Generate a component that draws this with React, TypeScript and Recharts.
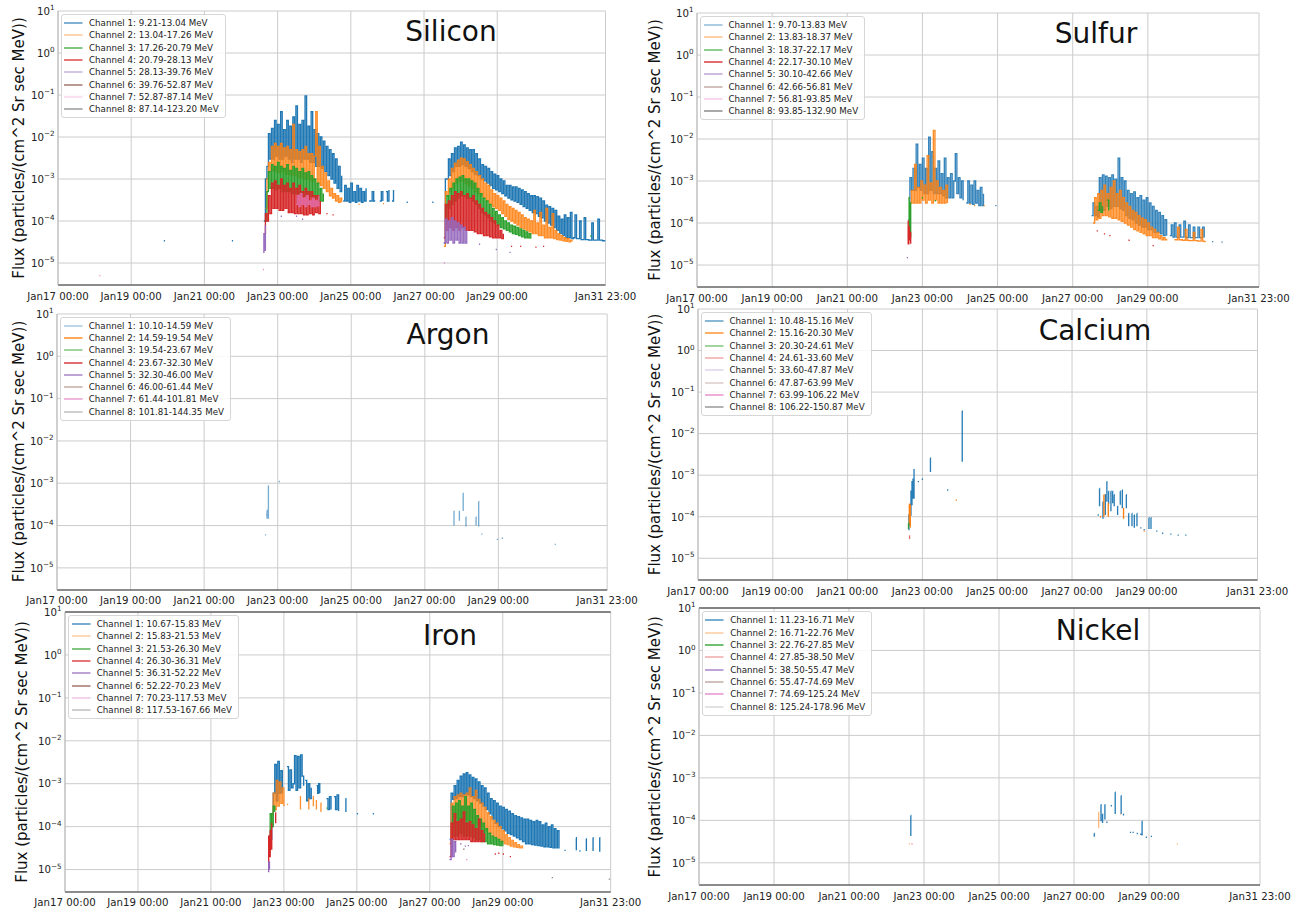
import React from 'react';
import { LineChart, Line, XAxis, YAxis, CartesianGrid, ReferenceLine } from 'recharts';

// a run of readings: start hour (from Jan17 00:00), hour step, values
type Seg = { t: number; dt?: number; v: number[] };
type Pt = { t: number; v: number | null };

const timeTicks = [0, 48, 96, 144, 192, 240, 288, 359];
const timeLabels = ['Jan17 00:00', 'Jan19 00:00', 'Jan21 00:00', 'Jan23 00:00', 'Jan25 00:00', 'Jan27 00:00', 'Jan29 00:00', 'Jan31 23:00'];
const fluxTicks = [1e-5, 1e-4, 1e-3, 1e-2, 1e-1, 1, 10];

const channelColors = ['#1f77b4', '#ff7f0e', '#2ca02c', '#d62728', '#9467bd', '#8c564b', '#e377c2', '#7f7f7f'];

// ---------- Silicon ----------
const siliconRanges = ['9.21-13.04', '13.04-17.26', '17.26-20.79', '20.79-28.13', '28.13-39.76', '39.76-52.87', '52.87-87.14', '87.14-123.20'];
const siliconCh1: Seg[] = [
  { t: 69.4, v: [3.4e-5] },
  { t: 114, v: [3.4e-5] },
  { t: 135, v: [1e-4, 1e-3, 2e-3, 1.2e-2, 3e-3, 1.6e-2, 3e-3, 2.5e-2, 3.5e-3, 2e-2, 3e-3, 4e-2, 3e-3, 1.5e-2, 3.5e-3, 2.5e-2, 3e-3, 1.8e-2, 2.5e-3, 3e-2, 3e-3, 5.5e-2, 3e-3, 2e-2, 2.5e-3, 2.5e-2, 3e-3, 9.5e-2, 3e-3, 1.8e-2, 2.5e-3, 4e-2, 2.5e-3, 1.5e-2, 2e-3, 1.2e-2, 2e-3, 1e-2, 1.8e-3, 8e-3, 1.5e-3, 6e-3, 1.2e-3, 5e-3, 1e-3, 4e-3, 8e-4, 3e-3, 6e-4, 2e-3, 5e-4, 1.2e-3] },
  { t: 187, v: [3e-4, 7e-4, 3e-4, 6e-4, 2.8e-4, 8e-4, 3e-4, 5e-4, 2.8e-4, 7e-4, 3e-4, 6e-4, 2.8e-4, 5e-4, 3e-4, 6e-4] },
  { t: 204, v: [3e-4, 3e-4, 5e-4, 3e-4, 3e-4] },
  { t: 211, v: [3e-4, 5e-4, 3e-4] },
  { t: 215, v: [5e-4, 3e-4, 5.5e-4] },
  { t: 219, v: [3e-4, 5.5e-4] },
  { t: 228.6, v: [2.8e-4] },
  { t: 245.4, v: [2.8e-4] },
  { t: 253, v: [3e-5, 1e-3, 1e-3, 3e-3, 1.2e-3, 4e-3, 1.5e-3, 5.5e-3, 2e-3, 6e-3, 2e-3, 7.5e-3, 2.2e-3, 6.5e-3, 2e-3, 5.5e-3, 1.8e-3, 5e-3, 1.5e-3, 5e-3, 1.3e-3, 4e-3, 1.2e-3, 3e-3, 1e-3, 2.2e-3, 9e-4, 2e-3, 8e-4, 1.8e-3, 7e-4, 1.5e-3, 6e-4, 1.3e-3, 5.5e-4, 1.2e-3, 5e-4, 1e-3, 4.5e-4, 9e-4, 4e-4, 7e-4, 3.5e-4, 7e-4, 3.2e-4, 6.5e-4, 3e-4, 6.5e-4, 2.8e-4, 6e-4, 2.5e-4, 5.5e-4, 2.2e-4, 5e-4, 2e-4, 4.5e-4, 1.8e-4, 4e-4, 1.6e-4, 4e-4, 1.5e-4, 3.8e-4, 1.3e-4, 3.5e-4, 1.2e-4, 3e-4, 1e-4, 2.4e-4, 9e-5, 2.2e-4, 8e-5, 2e-4, 7e-5, 1.8e-4, 6e-5, 1.3e-4, 5e-5, 1.1e-4, 4.5e-5, 1.4e-4, 4e-5, 1.2e-4, 4e-5, 1.6e-4, 3.8e-5, 4e-5, 1.4e-4, 3.8e-5, 3.8e-5, 1e-4, 3.6e-5, 3.6e-5, 1.2e-4, 3.6e-5, 3.6e-5, 3.5e-5, 3.5e-5, 9e-5, 3.5e-5, 3.5e-5, 3.5e-5, 1.1e-4, 3.5e-5, 3.5e-5, 3.4e-5, 3.4e-5, 3.4e-5] },
];
const siliconCh2: Seg[] = [
  { t: 136, v: [2e-4, 1e-3, 2.5e-3, 1.5e-3, 6e-3, 1.6e-3, 7e-3, 1.5e-3, 6e-3, 1.4e-3, 7e-3, 1.5e-3, 5.5e-3, 1.3e-3, 6e-3, 1.3e-3, 5e-3, 1.2e-3, 2e-2, 1.2e-3, 5e-3, 1.1e-3, 4.5e-3, 1.1e-3, 5e-3, 1e-3, 6e-3, 1e-3, 4e-3, 9e-4, 4e-3, 9e-4, 3.5e-3, 4e-2, 8e-4, 6e-3, 7e-4, 2e-3, 6e-4, 1.4e-3, 5e-4, 9e-4, 4e-4, 6e-4, 3.5e-4, 4.5e-4, 3e-4, 4e-4, 2.8e-4, 3.5e-4, 2.8e-4] },
  { t: 197, v: [2.5e-4] },
  { t: 213, v: [2.6e-4] },
  { t: 253, v: [2.5e-5, 5e-4, 4e-4, 1e-3, 5e-4, 1.8e-3, 6e-4, 2.4e-3, 8e-4, 2.8e-3, 9e-4, 3.2e-3, 9e-4, 3e-3, 8e-4, 2.6e-3, 7e-4, 2.2e-3, 6e-4, 1.8e-3, 5e-4, 1.5e-3, 4.5e-4, 1.2e-3, 4e-4, 1e-3, 3.5e-4, 8e-4, 3e-4, 7e-4, 2.5e-4, 5.5e-4, 2.2e-4, 4.5e-4, 2e-4, 4e-4, 1.8e-4, 3.5e-4, 1.5e-4, 3e-4, 1.3e-4, 2.5e-4, 1.1e-4, 2.2e-4, 1e-4, 2e-4, 9e-5, 1.8e-4, 8e-5, 1.6e-4, 7e-5, 1.4e-4, 6.5e-5, 1.2e-4, 6e-5, 1.1e-4, 5.5e-5, 1e-4, 5e-5, 1.8e-4, 5e-5, 9e-5, 4.5e-5, 1.6e-4, 4.5e-5, 8e-5, 4e-5, 2e-4, 4e-5, 7e-5, 4e-5, 1.5e-4, 3.8e-5, 6e-5, 3.6e-5, 5e-5, 3.5e-5, 4.5e-5, 3.4e-5, 4e-5, 3.3e-5, 3.8e-5, 3.2e-5, 3.5e-5, 3.2e-5] },
];
const siliconCh3: Seg[] = [
  { t: 136, v: [1e-4, 5e-4, 1.5e-3, 6e-4, 2.2e-3, 6e-4, 2e-3, 5.5e-4, 2.5e-3, 6e-4, 2e-3, 5e-4, 1.8e-3, 5e-4, 2.2e-3, 5e-4, 1.6e-3, 4.5e-4, 2e-3, 4.5e-4, 1.8e-3, 4.5e-4, 1.5e-3, 4e-4, 1.8e-3, 4e-4, 1.4e-3, 4e-4, 1.5e-3, 3.8e-4, 1.2e-3, 3.5e-4, 1e-3, 3.5e-4, 8e-4, 3e-4, 6e-4, 3e-4, 4.5e-4] },
  { t: 254, v: [1e-4, 4e-4, 2e-4, 6e-4, 2.5e-4, 8e-4, 3e-4, 1e-3, 3.5e-4, 1.1e-3, 4e-4, 1.2e-3, 4e-4, 1e-3, 3.5e-4, 1e-3, 3.5e-4, 9e-4, 3e-4, 8e-4, 2.5e-4, 6e-4, 2e-4, 4.5e-4, 1.6e-4, 3.5e-4, 1.4e-4, 3e-4, 1.2e-4, 2.5e-4, 1e-4, 2e-4, 9e-5, 1.7e-4, 8e-5, 1.4e-4, 7e-5, 1.2e-4, 6.5e-5, 1e-4, 6e-5, 9e-5, 5.5e-5, 8e-5, 5e-5, 7.5e-5, 4.8e-5, 7e-5, 4.5e-5, 6.5e-5, 4.2e-5, 6e-5, 4e-5, 5.5e-5, 4e-5, 5e-5, 3.8e-5] },
  { t: 349, v: [4.4e-5] },
];
const siliconCh4: Seg[] = [
  { t: 135, v: [5e-5, 1.5e-4, 1e-4, 4e-4, 1.5e-4, 8e-4, 2e-4, 9e-4, 2e-4, 7e-4, 1.8e-4, 1e-3, 1.8e-4, 7e-4, 2e-4, 8e-4, 1.6e-4, 6e-4, 1.6e-4, 8e-4, 1.5e-4, 6e-4, 1.5e-4, 7e-4, 1.5e-4, 5e-4, 1.4e-4, 6e-4, 1.4e-4, 5e-4, 1.5e-4, 5e-4, 1.4e-4, 4e-4, 1.6e-4, 4e-4, 1.5e-4, 3e-4] },
  { t: 176, v: [1.5e-4] },
  { t: 180, v: [1.4e-4] },
  { t: 253, v: [4e-5, 2.5e-4, 6e-5, 3e-4, 7e-5, 4e-4, 6e-5, 5e-4, 7e-5, 4.5e-4, 6e-5, 5e-4, 7e-5, 4e-4, 6e-5, 4.5e-4, 6e-5, 3.5e-4, 6e-5, 4e-4, 5.5e-5, 3e-4, 5e-5, 2.5e-4, 5e-5, 2e-4, 4.5e-5, 1.6e-4, 4.5e-5, 1.4e-4, 4.2e-5, 1.2e-4, 4e-5, 1e-4, 4e-5, 8e-5, 4e-5, 6e-5, 3.8e-5, 5e-5] },
  { t: 297, v: [2.5e-5] },
  { t: 303, v: [2.5e-5] },
  { t: 313, v: [2.4e-5] },
  { t: 318, v: [2.5e-5] },
];
const siliconCh5: Seg[] = [
  { t: 134.5, dt: 0.5, v: [1.8e-5, 5e-5, 2e-5, 8e-5] },
  { t: 146, v: [1.3e-4] },
  { t: 156, v: [1.3e-4] },
  { t: 160, v: [1.1e-4] },
  { t: 253, v: [3e-5, 1.1e-4, 3e-5, 1e-4, 3.5e-5, 1.2e-4, 3e-5, 1e-4, 3.5e-5, 9e-5, 3e-5, 8e-5, 3e-5, 7e-5, 3e-5, 6e-5] },
  { t: 276, v: [2.8e-5] },
  { t: 287, v: [2.1e-5] },
  { t: 296, v: [1.8e-5] },
];
const siliconCh7: Seg[] = [
  { t: 27, v: [5e-6] },
  { t: 134.3, v: [7e-6] },
  { t: 156, v: [2.5e-4, 4e-4, 2.2e-4, 4.5e-4, 2.5e-4, 3.5e-4, 2.2e-4, 4e-4, 2.5e-4, 3e-4, 2.2e-4, 3.5e-4, 2.2e-4, 3e-4, 2.3e-4, 4e-4] },
  { t: 253, v: [1e-5] },
];

// ---------- Sulfur ----------
const sulfurRanges = ['9.70-13.83', '13.83-18.37', '18.37-22.17', '22.17-30.10', '30.10-42.66', '42.66-56.81', '56.81-93.85', '93.85-132.90'];
const sulfurCh1: Seg[] = [
  { t: 135, v: [1.2e-4, 1.2e-3, 6e-4, 2e-3, 6e-4, 7.5e-3, 7e-4, 2.5e-3, 6e-4, 3.5e-3, 5e-4, 2e-3, 5e-4, 1.1e-2, 6e-4, 5e-3, 5e-4, 2e-3, 5e-4, 3e-3, 5e-4, 1.5e-3, 4.5e-4, 3.5e-3, 4e-4, 1.2e-3, 4e-4, 1.5e-3, 4e-4, 1e-3, 4.5e-3, 5e-4, 1.2e-3, 4e-4, 1e-3, 3.5e-4] },
  { t: 172, v: [3e-4, 1e-3, 3e-4, 8e-4, 2.8e-4, 1e-3, 3e-4, 6e-4, 2.6e-4, 7e-4, 2.6e-4, 5e-4] },
  { t: 190.5, v: [2.6e-4] },
  { t: 252, v: [1.5e-4, 3e-4, 1.5e-4, 2.5e-4, 1.4e-4, 1.2e-3, 2e-4, 1.4e-3, 2e-4, 1.3e-3, 2.5e-4, 1.2e-3, 2.2e-4, 1.4e-3, 2.5e-4, 1.1e-3, 2.5e-4, 3.5e-3, 2.2e-4, 1.2e-3, 2e-4, 1e-3, 1.5e-4, 6e-4, 1.3e-4, 5e-4, 1.2e-4, 5.5e-4, 1e-4, 4e-4, 9e-5, 4.5e-4, 8e-5, 3.5e-4, 8e-5, 4e-4, 7e-5, 3e-4, 7e-5, 2.5e-4, 6e-5, 2e-4, 6e-5, 1.8e-4, 5.5e-5, 1.5e-4, 5e-5, 1.2e-4, 5e-5] },
  { t: 302, v: [5e-5, 9e-5, 4.6e-5, 1e-4, 4.6e-5, 4.6e-5, 9e-5, 4.6e-5, 4.6e-5, 1.1e-4, 4.6e-5, 4.5e-5, 9e-5, 4.5e-5, 4.5e-5, 8e-5, 4.5e-5, 4.5e-5, 8e-5, 4.5e-5, 4.5e-5, 8e-5, 4.5e-5] },
  { t: 329, v: [3.6e-5] },
  { t: 335, v: [3.5e-5] },
];
const sulfurCh2: Seg[] = [
  { t: 135, v: [1e-4, 3e-4, 6e-4, 3e-4, 2.5e-3, 3e-4, 7e-4, 3e-4, 1e-3, 3.5e-4, 8e-4, 3e-4, 4e-3, 3.5e-4, 9e-4, 3e-4, 1.6e-2, 3.5e-4, 1e-3, 3e-4, 7e-4, 3e-4, 6e-4, 3e-4, 8e-4, 3e-4] },
  { t: 174, v: [2.8e-4] },
  { t: 177, v: [2.6e-4] },
  { t: 183, v: [2.6e-4] },
  { t: 253, v: [1e-4, 4e-4, 1.2e-4, 5e-4, 1.3e-4, 6e-4, 1.5e-4, 8e-4, 1.5e-4, 5e-4, 1.4e-4, 7e-4, 1.3e-4, 1e-3, 1.3e-4, 5e-4, 1.2e-4, 6e-4, 1.1e-4, 4e-4, 1e-4, 3e-4, 9e-5, 2.5e-4, 8e-5, 2e-4, 7e-5, 1.8e-4, 6.5e-5, 1.5e-4, 6e-5, 1.3e-4, 5.5e-5, 1.2e-4, 5e-5, 1e-4, 5e-5, 8e-5, 4.5e-5, 7e-5, 4.5e-5, 6e-5, 4.2e-5, 5e-5, 4e-5, 4.5e-5, 4e-5, 4.2e-5] },
  { t: 305, v: [4e-5, 4e-5, 8e-5, 4e-5, 4e-5, 3.9e-5, 3.9e-5, 7e-5, 3.9e-5, 3.8e-5, 3.8e-5, 3.8e-5, 6e-5, 3.8e-5, 3.8e-5, 3.7e-5, 3.7e-5, 7e-5, 3.7e-5, 3.6e-5, 3.6e-5] },
];
const sulfurCh3: Seg[] = [
  { t: 135, dt: 0.5, v: [4e-4, 8e-5, 3e-4, 4.5e-5] },
  { t: 143.6, v: [4e-4] },
  { t: 151.8, v: [3.4e-4] },
  { t: 256, v: [2e-4, 3e-4, 1.8e-4, 2.5e-4] },
  { t: 262, v: [3.5e-4, 2e-4] },
];
const sulfurCh4: Seg[] = [
  { t: 134.5, dt: 0.4, v: [1.1e-4, 3.2e-5, 8e-5, 4e-5, 6e-5, 3.2e-5] },
  { t: 255.3, v: [6.5e-5] },
  { t: 259.9, v: [5.5e-5] },
  { t: 263.4, v: [5e-5] },
  { t: 275.6, v: [3.9e-5] },
  { t: 291, v: [2.9e-5] },
];
const sulfurCh5: Seg[] = [{ t: 134, v: [1.5e-5] }];

// ---------- Argon ----------
const argonRanges = ['10.10-14.59', '14.59-19.54', '19.54-23.67', '23.67-32.30', '32.30-46.00', '46.00-61.44', '61.44-101.81', '101.81-144.35'];
const argonCh1: Seg[] = [
  { t: 135.7, v: [6e-5] },
  { t: 136.4, v: [1.8e-4] },
  { t: 137, dt: 0.05, v: [2.3e-4, 1.45e-4] },
  { t: 137.9, dt: 0.05, v: [8.7e-4, 1.45e-4] },
  { t: 144.7, v: [1.1e-3] },
  { t: 259, dt: 0.05, v: [2.2e-4, 1e-4] },
  { t: 262.5, dt: 0.05, v: [2.2e-4, 1.3e-4] },
  { t: 265, dt: 0.05, v: [5.8e-4, 2.2e-4] },
  { t: 266.8, dt: 0.05, v: [1.6e-4, 9.5e-5] },
  { t: 273.4, dt: 0.05, v: [1.6e-4, 1e-4] },
  { t: 275.1, dt: 0.05, v: [3.7e-4, 9.5e-5] },
  { t: 276.8, v: [6.3e-5] },
  { t: 286.9, v: [4.7e-5] },
  { t: 290.2, v: [5e-5] },
  { t: 324.7, v: [3.6e-5] },
];

// ---------- Calcium ----------
const calciumRanges = ['10.48-15.16', '15.16-20.30', '20.30-24.61', '24.61-33.60', '33.60-47.87', '47.87-63.99', '63.99-106.22', '106.22-150.87'];
const calciumCh1: Seg[] = [
  { t: 135, dt: 0.33, v: [4.9e-5, 1.1e-4, 6.5e-5, 1.95e-4, 1.1e-4, 4.1e-4, 1.95e-4, 7e-4, 2.8e-4, 8e-4, 2.8e-4, 1.4e-3] },
  { t: 141, v: [7e-4] },
  { t: 143.6, v: [8e-4] },
  { t: 149.1, dt: 0.05, v: [2.6e-3, 1.2e-3] },
  { t: 159.8, v: [4.4e-4] },
  { t: 169.5, dt: 0.05, v: [3.5e-2, 2.1e-3] },
  { t: 256.4, v: [1.1e-4] },
  { t: 257.6, dt: 0.05, v: [4.8e-4, 1.8e-4] },
  { t: 259.8, dt: 0.05, v: [2.3e-4, 9e-5] },
  { t: 261.3, dt: 0.05, v: [3.4e-4, 1.1e-4] },
  { t: 262.3, dt: 0.05, v: [7e-4, 2.3e-4] },
  { t: 263.4, dt: 0.05, v: [4.1e-4, 2e-4] },
  { t: 264.9, dt: 0.05, v: [4.1e-4, 1.35e-4] },
  { t: 266, dt: 0.05, v: [4.1e-4, 2.1e-4] },
  { t: 267, dt: 0.05, v: [3.4e-4, 1.8e-4] },
  { t: 269.2, dt: 0.05, v: [1.8e-4, 1.1e-4] },
  { t: 270.9, dt: 0.05, v: [4.1e-4, 1.95e-4] },
  { t: 272.2, dt: 0.05, v: [4.4e-4, 1.6e-4] },
  { t: 274.8, dt: 0.05, v: [3.4e-4, 1.6e-4] },
  { t: 276.3, dt: 0.05, v: [1.2e-4, 5.9e-5] },
  { t: 278.4, dt: 0.05, v: [1.2e-4, 5.9e-5] },
  { t: 279.9, dt: 0.05, v: [1.1e-4, 5.4e-5] },
  { t: 281.6, dt: 0.05, v: [1.2e-4, 5.9e-5] },
  { t: 283.7, v: [5.4e-5] },
  { t: 285.9, v: [4.9e-5] },
  { t: 289.3, dt: 0.05, v: [9.5e-5, 5.1e-5] },
  { t: 290.6, dt: 0.05, v: [9.5e-5, 5.1e-5] },
  { t: 294, v: [4.5e-5] },
  { t: 297.7, v: [4e-5] },
  { t: 303, v: [3.8e-5] },
  { t: 307.7, v: [3.6e-5] },
  { t: 312.6, v: [3.6e-5] },
];
const calciumCh2: Seg[] = [
  { t: 135.3, dt: 0.3, v: [2e-4, 7e-5, 1.9e-4, 5.5e-5] },
  { t: 165.4, v: [2.5e-4] },
  { t: 257.9, v: [1e-4] },
  { t: 260.4, dt: 0.05, v: [3.4e-4, 1e-4] },
  { t: 263.2, dt: 0.05, v: [2.1e-4, 1e-4] },
  { t: 273, dt: 0.05, v: [1.6e-4, 9e-5] },
  { t: 285.9, v: [4.5e-5] },
];
const calciumCh3: Seg[] = [{ t: 135, dt: 0.05, v: [7e-5, 5.1e-5] }];
const calciumCh4: Seg[] = [{ t: 135.7, dt: 0.05, v: [3.5e-5, 2.9e-5] }];

// ---------- Iron ----------
const ironRanges = ['10.67-15.83', '15.83-21.53', '21.53-26.30', '26.30-36.31', '36.31-52.22', '52.22-70.23', '70.23-117.53', '117.53-167.66'];
const ironCh1: Seg[] = [
  { t: 134, v: [3e-5, 5e-5, 2e-4, 6e-4, 2.8e-3, 4e-4, 3.3e-3, 6e-4, 2e-3, 6e-4] },
  { t: 142, v: [1.4e-3, 6e-4] },
  { t: 146, v: [2.5e-3, 7e-4, 2.1e-3, 8e-4, 1e-3, 4.5e-3, 7e-4, 4.3e-3, 8e-4, 4.7e-3, 1.5e-3, 9e-4] },
  { t: 158, v: [1.2e-3, 4e-4, 1e-3, 4.5e-4, 8e-4] },
  { t: 165.5, dt: 0.7, v: [9e-4, 6e-4, 1e-3, 6e-4] },
  { t: 172, v: [4.5e-4, 2.5e-4, 5e-4, 2.5e-4] },
  { t: 177, v: [5e-4, 2.5e-4, 5.5e-4, 2.3e-4] },
  { t: 184.5, dt: 0.3, v: [4.5e-4, 2.2e-4] },
  { t: 192, v: [2e-4] },
  { t: 202.5, v: [2e-4] },
  { t: 253, v: [5e-5, 6e-4, 4.3e-4, 9e-4, 4.5e-4, 1.2e-3, 5e-4, 1.5e-3, 5e-4, 1.7e-3, 5.5e-4, 1.8e-3, 5.5e-4, 1.6e-3, 5e-4, 1.4e-3, 4.5e-4, 1.3e-3, 4e-4, 1.1e-3, 3.5e-4, 9e-4, 3e-4, 8e-4, 2.5e-4, 6e-4, 2e-4, 4.5e-4, 1.5e-4, 4e-4, 1.2e-4, 3.5e-4, 1e-4, 3e-4, 9e-5, 2.8e-4, 8e-5, 2.5e-4, 7e-5, 2.3e-4, 6.5e-5, 2e-4, 6e-5, 1.8e-4, 5.5e-5, 1.7e-4, 5e-5, 1.6e-4, 4.5e-5, 1.5e-4, 4e-5, 1.5e-4, 4e-5, 1.4e-4, 3.8e-5, 1.3e-4, 3.7e-5, 1.4e-4, 3.6e-5, 1.3e-4, 3.5e-5, 1.1e-4, 3.4e-5, 1.2e-4, 3.4e-5, 1e-4, 3.3e-5, 1.1e-4, 3.2e-5, 9e-5, 3.2e-5, 8e-5, 3.1e-5] },
  { t: 328.6, v: [2.8e-5] },
  { t: 336.2, dt: 0.2, v: [5.5e-5, 2.8e-5] },
  { t: 338.4, v: [2.7e-5] },
  { t: 342.8, dt: 0.2, v: [5.2e-5, 2.7e-5] },
  { t: 347.2, dt: 0.2, v: [5.5e-5, 2.7e-5] },
  { t: 351.6, dt: 0.2, v: [5.5e-5, 2.6e-5] },
];
const ironCh2: Seg[] = [
  { t: 135, v: [1e-4, 2e-4, 6e-4, 2.5e-4, 1.2e-3, 3e-4, 1.1e-3, 3.5e-4, 8e-4, 3e-4] },
  { t: 146, v: [3.3e-4] },
  { t: 154.5, dt: 0.4, v: [5e-4, 2.5e-4] },
  { t: 160, dt: 0.4, v: [4.5e-4, 2.5e-4] },
  { t: 163, dt: 0.4, v: [5e-4, 3e-4] },
  { t: 165, dt: 0.4, v: [4e-4, 2.5e-4] },
  { t: 168, dt: 0.4, v: [3.5e-4, 2.2e-4] },
  { t: 253, v: [4e-5, 3.5e-4, 1.2e-4, 5e-4, 1.5e-4, 5.5e-4, 1.5e-4, 6e-4, 1.4e-4, 5.5e-4, 1.5e-4, 6e-4, 1.4e-4, 8e-4, 1.3e-4, 5e-4, 1.2e-4, 7e-4, 1.1e-4, 4.3e-4, 1e-4, 3.5e-4, 9e-5, 2.8e-4, 8e-5, 2.1e-4, 7e-5, 1.7e-4, 6e-5, 1.4e-4, 5.5e-5, 1.2e-4, 5e-5, 1e-4, 4.5e-5, 8e-5, 4e-5, 6.5e-5, 3.8e-5, 5.5e-5, 3.5e-5, 4.8e-5, 3.4e-5, 4.2e-5, 3.3e-5, 3.8e-5, 3.2e-5, 3.5e-5, 3.1e-5] },
];
const ironCh3: Seg[] = [
  { t: 134, v: [6e-5, 2e-4, 1e-4, 3e-4, 2.2e-4] },
  { t: 172, v: [2.7e-4] },
  { t: 254, v: [5e-5, 3e-4, 6e-5, 3.5e-4, 6e-5, 4e-4, 7e-5, 3e-4, 6e-5, 5e-4, 6e-5, 3e-4, 6e-5, 3.5e-4, 5.5e-5, 2.5e-4, 5e-5, 1.8e-4, 5e-5, 1.5e-4, 4.5e-5, 1.2e-4, 4.5e-5, 9e-5, 4e-5, 7e-5, 4e-5, 6e-5, 3.8e-5, 5.5e-5, 3.7e-5, 5e-5, 3.6e-5, 4.5e-5, 3.5e-5] },
];
const ironCh4: Seg[] = [
  { t: 133.5, dt: 0.5, v: [1.5e-5, 6e-5, 2e-5, 8e-5, 3e-5, 1.2e-4] },
  { t: 138.5, dt: 0.1, v: [2.1e-4, 1.2e-4] },
  { t: 253, v: [2e-5, 1.2e-4, 5e-5, 2e-4, 5e-5, 1.3e-4, 5e-5, 1.5e-4, 5e-5, 2.2e-4, 5e-5, 1.2e-4, 5e-5, 1.3e-4, 4.5e-5, 1.1e-4, 4.5e-5, 9e-5, 4.5e-5, 1.5e-4, 4.5e-5, 8e-5, 4.5e-5, 7e-5] },
  { t: 282.7, v: [2.3e-5] },
  { t: 285, v: [2.4e-5] },
  { t: 288, v: [2.3e-5] },
  { t: 292.6, v: [2e-5] },
];
const ironCh5: Seg[] = [
  { t: 133.5, dt: 0.5, v: [9e-6, 1.5e-5, 1e-5] },
  { t: 253, v: [1.7e-5, 5e-5, 2e-5, 4.5e-5, 2.5e-5] },
  { t: 260, v: [4e-5] },
  { t: 263, v: [3.5e-5] },
  { t: 265, v: [3.6e-5] },
];
const ironCh6: Seg[] = [{ t: 262, v: [3e-5] }];
const ironCh7: Seg[] = [{ t: 263.9, v: [1.7e-5] }];
const ironCh8: Seg[] = [
  { t: 320.2, v: [6.5e-6] },
  { t: 357.7, v: [6e-6] },
];

// ---------- Nickel ----------
const nickelRanges = ['11.23-16.71', '16.71-22.76', '22.76-27.85', '27.85-38.50', '38.50-55.47', '55.47-74.69', '74.69-125.24', '125.24-178.96'];
const nickelCh1: Seg[] = [
  { t: 135.5, dt: 0.05, v: [1.3e-4, 4.3e-5] },
  { t: 252.9, dt: 0.05, v: [4.9e-5, 4.1e-5] },
  { t: 257.2, dt: 0.05, v: [2.35e-4, 9.5e-5] },
  { t: 258.2, dt: 0.05, v: [1.4e-4, 8.7e-5] },
  { t: 259.7, dt: 0.05, v: [2.35e-4, 1.05e-4] },
  { t: 260.6, v: [9e-5] },
  { t: 263.5, v: [2.2e-4] },
  { t: 266.3, dt: 0.05, v: [4.6e-4, 1.4e-4] },
  { t: 270.1, dt: 0.05, v: [3.8e-4, 1.4e-4] },
  { t: 271.6, dt: 0.05, v: [1.4e-4, 1.3e-4] },
  { t: 275.7, v: [5.2e-5] },
  { t: 277.4, v: [5.2e-5] },
  { t: 280.1, v: [4.9e-5] },
  { t: 282.3, v: [4.7e-5] },
  { t: 283.5, dt: 0.05, v: [9.5e-5, 4.4e-5] },
  { t: 285.9, v: [4e-5] },
  { t: 289.1, v: [4.2e-5] },
];
const nickelCh2: Seg[] = [
  { t: 134.2, v: [2.8e-5] },
  { t: 255.7, dt: 0.05, v: [1.55e-4, 6.6e-5] },
  { t: 269.5, v: [1.4e-4] },
  { t: 305.7, v: [2.8e-5] },
];
const nickelCh4: Seg[] = [{ t: 135.9, v: [2.8e-5] }];

// ---------- layout ----------
type PanelDef = {
  name: string;
  left: number; top: number; w: number; h: number;
  titleX: number; titleY: number; labelX: number;
  ranges: string[]; alphas: number[]; boost: number; series: Seg[][];
  darkTop?: boolean;
};

const panels: PanelDef[] = [
  { name: 'Silicon', left: 57.5, top: 11, w: 547.5, h: 274, titleX: 451, titleY: 31, labelX: 19, ranges: siliconRanges,
    alphas: [0.75, 0.45, 0.8, 0.85, 0.5, 0.8, 0.3, 0.8], boost: 0.45,
    series: [siliconCh1, siliconCh2, siliconCh3, siliconCh4, siliconCh5, [], siliconCh7, []] },
  { name: 'Sulfur', left: 697, top: 13, w: 562, h: 274, titleX: 1096, titleY: 33, labelX: 655, ranges: sulfurRanges,
    alphas: [0.5, 0.5, 0.7, 0.9, 0.6, 0.5, 0.4, 0.9], boost: 0.4,
    series: [sulfurCh1, sulfurCh2, sulfurCh3, sulfurCh4, sulfurCh5, [], [], []] },
  { name: 'Argon', left: 57.3, top: 313.5, w: 550.2, h: 276, titleX: 448, titleY: 334, labelX: 19, ranges: argonRanges,
    alphas: [0.4, 0.9, 0.6, 0.9, 0.8, 0.5, 0.7, 0.5], boost: 0.2,
    series: [argonCh1, [], [], [], [], [], [], []] },
  { name: 'Calcium', left: 698, top: 309, w: 559.5, h: 271, titleX: 1095, titleY: 330, labelX: 655, ranges: calciumRanges,
    alphas: [0.7, 0.85, 0.6, 0.4, 0.3, 0.3, 0.8, 0.8], boost: 0.25,
    series: [calciumCh1, calciumCh2, calciumCh3, calciumCh4, [], [], [], []] },
  { name: 'Iron', left: 65.3, top: 612, w: 545.7, h: 280, titleX: 450, titleY: 635, labelX: 22, ranges: ironRanges,
    alphas: [0.8, 0.4, 0.8, 0.85, 0.8, 0.8, 0.4, 0.5], boost: 0.45, darkTop: true,
    series: [ironCh1, ironCh2, ironCh3, ironCh4, ironCh5, ironCh6, ironCh7, ironCh8] },
  { name: 'Nickel', left: 698.7, top: 608.3, w: 561, h: 277, titleX: 1098, titleY: 630, labelX: 655, ranges: nickelRanges,
    alphas: [0.8, 0.4, 0.9, 0.4, 0.8, 0.5, 0.8, 0.3], boost: 0.15, darkTop: true,
    series: [nickelCh1, nickelCh2, [], nickelCh4, [], [], [], []] },
];

const FONT = '"DejaVu Sans", sans-serif';
const AXIS_W = 45;
const PAD_T = 12;
const PAD_R = 40;
const AXIS_H = 25;

const toPoints = (segs: Seg[]): Pt[] => {
  const out: Pt[] = [];
  segs.forEach((s) => {
    const dt = s.dt ?? 1;
    if (s.v.length === 1) {
      // lone reading: short dash so it shows
      out.push({ t: s.t, v: s.v[0] }, { t: s.t + 0.8, v: s.v[0] });
    } else {
      s.v.forEach((v, i) => out.push({ t: s.t + i * dt, v }));
    }
    out.push({ t: s.t, v: null });
  });
  return out;
};

const TimeTick = (p: any) => {
  const i = timeTicks.indexOf(p.payload.value);
  return (
    <text x={p.x} y={p.y + 14.5} textAnchor="middle" fontFamily={FONT} fontSize={10.2} fill="#222">
      {timeLabels[i]}
    </text>
  );
};

const FluxTick = (p: any) => {
  const e = Math.round(Math.log10(p.payload.value));
  const exp = e < 0 ? '\u2212' + -e : String(e);
  return (
    <text x={p.x - 3.5} y={p.y + 3.8} textAnchor="end" fontFamily={FONT} fontSize={10.2} fill="#222">
      10<tspan dy={-4.6} fontSize={7.2}>{exp}</tspan>
    </text>
  );
};

const Panel = ({ def }: { def: PanelDef }) => (
  <div style={{ position: 'absolute', left: def.left - AXIS_W, top: def.top - PAD_T }}>
    <LineChart
      width={AXIS_W + def.w + PAD_R}
      height={PAD_T + def.h + AXIS_H}
      margin={{ top: PAD_T, right: PAD_R, left: 0, bottom: 0 }}
    >
      <CartesianGrid stroke="#cccccc" strokeWidth={1} />
      <XAxis
        type="number"
        dataKey="t"
        domain={[0, 359]}
        ticks={timeTicks}
        interval={0}
        allowDataOverflow
        height={AXIS_H}
        tickLine={false}
        tickSize={0}
        tickMargin={0}
        axisLine={{ stroke: '#333', strokeWidth: 1 }}
        tick={<TimeTick />}
      />
      <YAxis
        type="number"
        scale="log"
        domain={[3e-6, 10]}
        ticks={fluxTicks}
        interval={0}
        allowDataOverflow
        width={AXIS_W}
        tickLine={false}
        tickSize={0}
        tickMargin={0}
        axisLine={{ stroke: '#bbbbbb', strokeWidth: 1 }}
        tick={<FluxTick />}
      />
      {def.series.map((segs, i) => (
        <Line
          key={`${def.name}-${i}`}
          data={toPoints(segs)}
          dataKey="v"
          type="stepAfter"
          stroke={channelColors[i]}
          strokeOpacity={Math.min(1, def.alphas[i] + def.boost)}
          strokeWidth={1.35}
          dot={false}
          activeDot={false}
          connectNulls={false}
          isAnimationActive={false}
        />
      ))}
      {def.darkTop && <ReferenceLine y={10} stroke="#222" strokeWidth={1} />}
    </LineChart>
  </div>
);

const LegendBox = ({ def }: { def: PanelDef }) => (
  <div
    style={{
      position: 'absolute',
      left: def.left + 3,
      top: def.top + 3,
      padding: '2px 6px 2px 2.5px',
      border: '1px solid #d6d6d6',
      borderRadius: 3,
      background: 'rgba(255,255,255,0.85)',
      fontFamily: FONT,
      fontSize: 8.7,
      color: '#222',
      whiteSpace: 'nowrap',
    }}
  >
    {def.ranges.map((r, i) => (
      <div key={i} style={{ display: 'flex', alignItems: 'center', height: 12.3 }}>
        <svg width={25} height={12} style={{ flex: 'none' }}>
          <line x1={0} x2={18.5} y1={6} y2={6} stroke={channelColors[i]} strokeOpacity={def.alphas[i]} strokeWidth={1.5} />
        </svg>
        <span>{`Channel ${i + 1}: ${r} MeV`}</span>
      </div>
    ))}
  </div>
);

export default function App() {
  return (
    <div style={{ position: 'absolute', left: 0, top: 0, width: 1302, height: 913, background: '#fff', overflow: 'hidden' }}>
      {panels.map((p) => (
        <Panel key={p.name} def={p} />
      ))}
      <svg width={1302} height={913} style={{ position: 'absolute', left: 0, top: 0, pointerEvents: 'none' }}>
        {panels.map((p) => (
          <g key={p.name}>
            <text x={p.titleX} y={p.titleY} textAnchor="middle" dominantBaseline="central" fontFamily={FONT} fontSize={28} fill="#111">
              {p.name}
            </text>
            <text
              transform={`translate(${p.labelX}, ${p.top + p.h / 2}) rotate(-90)`}
              textAnchor="middle"
              dominantBaseline="central"
              fontFamily={FONT}
              fontSize={15}
              fill="#111"
            >
              Flux (particles/(cm^2 Sr sec MeV))
            </text>
          </g>
        ))}
      </svg>
      {panels.map((p) => (
        <LegendBox key={p.name} def={p} />
      ))}
    </div>
  );
}
